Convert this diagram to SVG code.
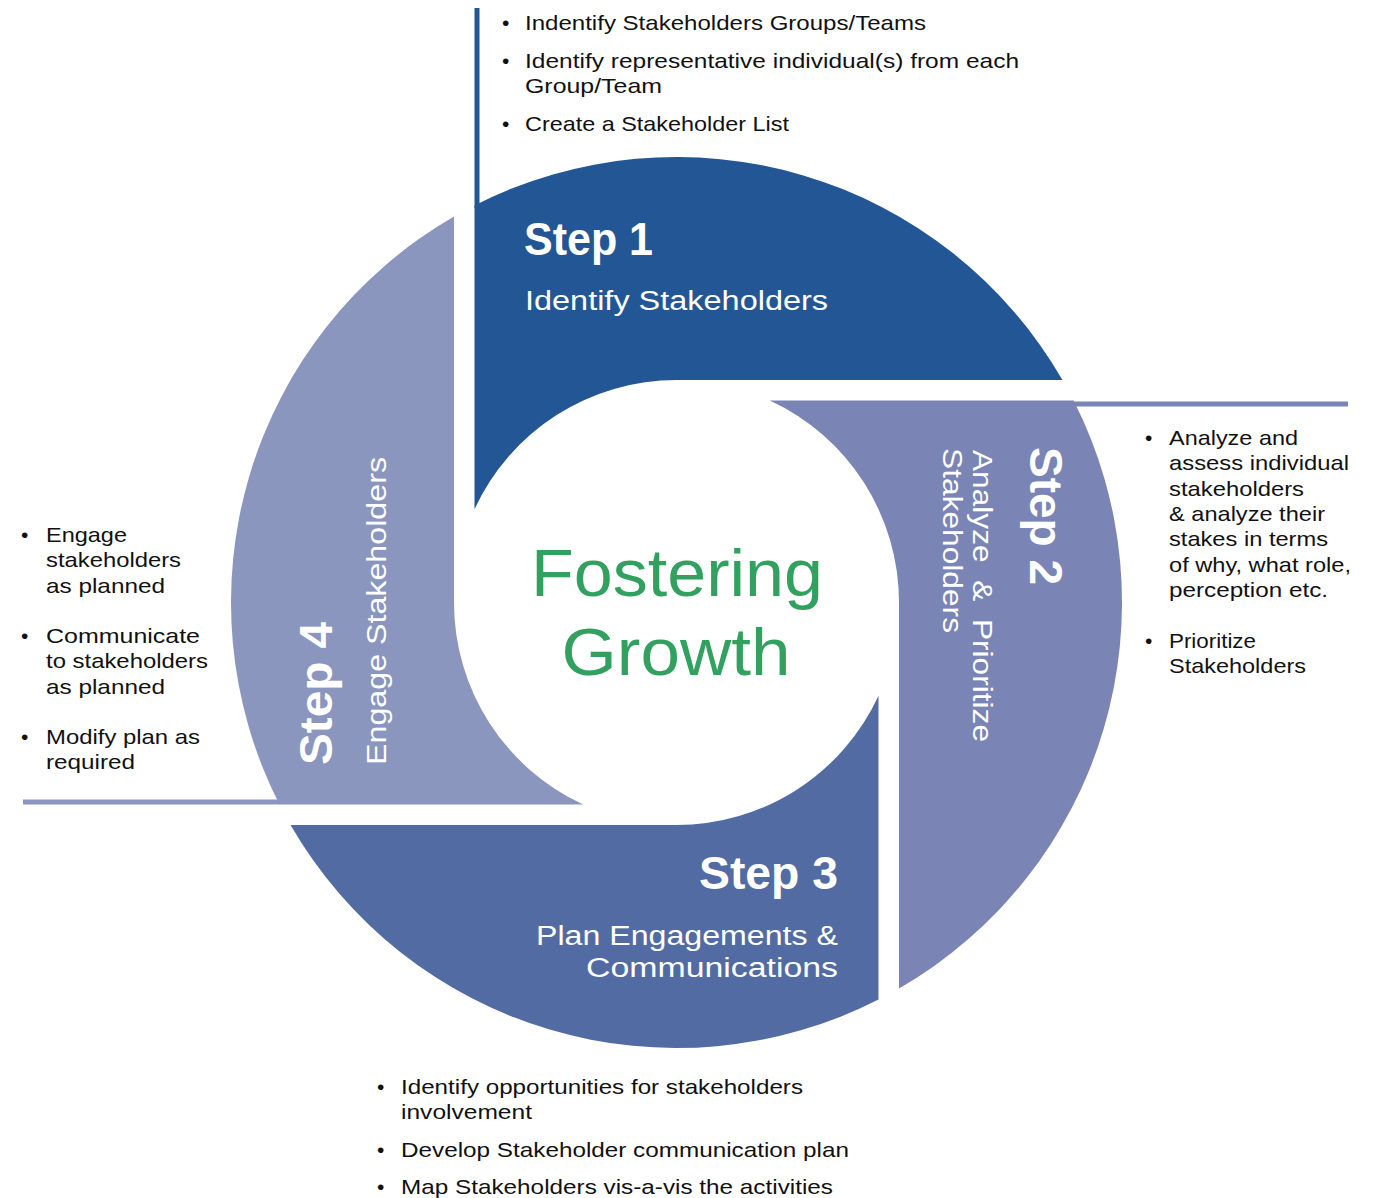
<svg xmlns="http://www.w3.org/2000/svg" width="1379" height="1198" viewBox="0 0 1379 1198">
<style>
text{font-family:"Liberation Sans",Arial,sans-serif}
.b{font-size:21px;fill:#111}
.t{font-size:46px;font-weight:700;fill:#fff}
.s{font-size:27px;fill:#fff}
.g{font-size:66px;fill:#32A05F}
</style>
<defs>
<path id="seg" d="M474.5,205.43 A445.5,445.5 0 0 1 1062.46,380 L676.5,380 A222.5,222.5 0 0 0 474.5,509.21 Z"/>
</defs>
<rect width="1379" height="1198" fill="#fff"/>
<g id="connectors">
<rect x="474.5" y="8" width="5" height="200" fill="#235694"/>
<rect x="1070" y="401.5" width="278" height="5" fill="#7A84B5"/>
<rect x="23" y="799.5" width="257" height="5" fill="#8B96BF"/>
</g>
<g id="step1">
<use href="#seg" fill="#235694"/>
<text class="t" x="524" y="255" textLength="129" lengthAdjust="spacingAndGlyphs">Step 1</text>
<text class="s" x="525" y="310" textLength="303" lengthAdjust="spacingAndGlyphs">Identify Stakeholders</text>
</g>
<g id="step2">
<use href="#seg" fill="#7A84B5" transform="rotate(90 676.5 602.5)"/>
<text class="t" transform="translate(1030,447) rotate(90)" textLength="138" lengthAdjust="spacingAndGlyphs">Step 2</text>
<text class="s" transform="translate(973,450) rotate(90)" textLength="292" lengthAdjust="spacingAndGlyphs">Analyze&#160;&#160;&amp;&#160;&#160;Prioritize</text>
<text class="s" transform="translate(943,448) rotate(90)" textLength="185" lengthAdjust="spacingAndGlyphs">Stakeholders</text>
</g>
<g id="step3">
<use href="#seg" fill="#526BA3" transform="rotate(180 676.5 602.5)"/>
<text class="t" x="838" y="889" text-anchor="end" textLength="139" lengthAdjust="spacingAndGlyphs">Step 3</text>
<text class="s" x="838" y="945" text-anchor="end" textLength="302" lengthAdjust="spacingAndGlyphs">Plan Engagements &amp;</text>
<text class="s" x="838" y="977" text-anchor="end" textLength="252" lengthAdjust="spacingAndGlyphs">Communications</text>
</g>
<g id="step4">
<use href="#seg" fill="#8B96BF" transform="rotate(270 676.5 602.5)"/>
<text class="t" transform="translate(332,765) rotate(-90)" textLength="143" lengthAdjust="spacingAndGlyphs">Step 4</text>
<text class="s" transform="translate(386,765) rotate(-90)" textLength="308" lengthAdjust="spacingAndGlyphs">Engage Stakeholders</text>
</g>
<g id="center">
<text class="g" x="677" y="596" text-anchor="middle" textLength="292" lengthAdjust="spacingAndGlyphs">Fostering</text>
<text class="g" x="676" y="675" text-anchor="middle" textLength="229" lengthAdjust="spacingAndGlyphs">Growth</text>
</g>
<g id="notes-step1">
<text class="b" x="502" y="30">•</text>
<text class="b" x="525" y="30" textLength="401" lengthAdjust="spacingAndGlyphs">Indentify Stakeholders Groups/Teams</text>
<text class="b" x="502" y="68">•</text>
<text class="b" x="525" y="68" textLength="494" lengthAdjust="spacingAndGlyphs">Identify representative individual(s) from each</text>
<text class="b" x="525" y="93" textLength="137" lengthAdjust="spacingAndGlyphs">Group/Team</text>
<text class="b" x="502" y="131">•</text>
<text class="b" x="525" y="131" textLength="264" lengthAdjust="spacingAndGlyphs">Create a Stakeholder List</text>
</g>
<g id="notes-step2">
<text class="b" x="1145" y="445">•</text>
<text class="b" x="1169" y="445" textLength="129" lengthAdjust="spacingAndGlyphs">Analyze and</text>
<text class="b" x="1169" y="470" textLength="180" lengthAdjust="spacingAndGlyphs">assess individual</text>
<text class="b" x="1169" y="496" textLength="135" lengthAdjust="spacingAndGlyphs">stakeholders</text>
<text class="b" x="1169" y="521" textLength="156" lengthAdjust="spacingAndGlyphs">&amp; analyze their</text>
<text class="b" x="1169" y="546" textLength="159" lengthAdjust="spacingAndGlyphs">stakes in terms</text>
<text class="b" x="1169" y="572" textLength="182" lengthAdjust="spacingAndGlyphs">of why, what role,</text>
<text class="b" x="1169" y="597" textLength="159" lengthAdjust="spacingAndGlyphs">perception etc.</text>
<text class="b" x="1145" y="648">•</text>
<text class="b" x="1169" y="648" textLength="87" lengthAdjust="spacingAndGlyphs">Prioritize</text>
<text class="b" x="1169" y="673" textLength="137" lengthAdjust="spacingAndGlyphs">Stakeholders</text>
</g>
<g id="notes-step3">
<text class="b" x="377" y="1094">•</text>
<text class="b" x="401" y="1094" textLength="402" lengthAdjust="spacingAndGlyphs">Identify opportunities for stakeholders</text>
<text class="b" x="401" y="1119" textLength="131" lengthAdjust="spacingAndGlyphs">involvement</text>
<text class="b" x="377" y="1157">•</text>
<text class="b" x="401" y="1157" textLength="448" lengthAdjust="spacingAndGlyphs">Develop Stakeholder communication plan</text>
<text class="b" x="377" y="1194">•</text>
<text class="b" x="401" y="1194" textLength="432" lengthAdjust="spacingAndGlyphs">Map Stakeholders vis-a-vis the activities</text>
</g>
<g id="notes-step4">
<text class="b" x="21" y="542">•</text>
<text class="b" x="46" y="542" textLength="81" lengthAdjust="spacingAndGlyphs">Engage</text>
<text class="b" x="46" y="567" textLength="135" lengthAdjust="spacingAndGlyphs">stakeholders</text>
<text class="b" x="46" y="593" textLength="119" lengthAdjust="spacingAndGlyphs">as planned</text>
<text class="b" x="21" y="643">•</text>
<text class="b" x="46" y="643" textLength="154" lengthAdjust="spacingAndGlyphs">Communicate</text>
<text class="b" x="46" y="668" textLength="162" lengthAdjust="spacingAndGlyphs">to stakeholders</text>
<text class="b" x="46" y="694" textLength="119" lengthAdjust="spacingAndGlyphs">as planned</text>
<text class="b" x="21" y="744">•</text>
<text class="b" x="46" y="744" textLength="154" lengthAdjust="spacingAndGlyphs">Modify plan as</text>
<text class="b" x="46" y="769" textLength="89" lengthAdjust="spacingAndGlyphs">required</text>
</g>
</svg>
